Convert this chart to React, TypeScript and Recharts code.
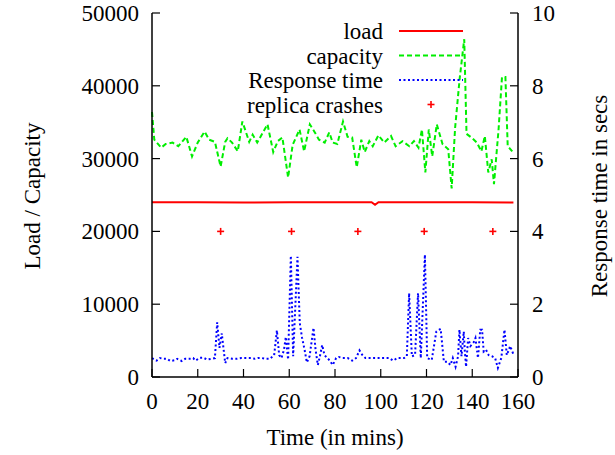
import {
  ComposedChart,
  Line,
  Scatter,
  XAxis,
  YAxis,
} from "recharts";

// minutes -> requests
const load: [number, number][] = [
  [0, 24000], [20, 24000], [40, 23980], [60, 24000], [80, 24000],
  [96, 24000], [97.5, 23650], [99, 24000], [120, 24000], [140, 24000],
  [158, 23980],
];

const capacity: [number, number][] = [
  [0, 36400], [1, 32600], [4, 31500], [6, 32000], [9, 32200], [11.5, 31700],
  [15, 33000], [17.5, 30300], [20, 32200], [23, 33700], [25, 32600],
  [27.5, 32300], [30, 28900], [32, 32300], [33, 32800], [35, 32200],
  [37.5, 31000], [39.5, 35100], [42.5, 32300], [44, 33300], [46, 32200],
  [48.5, 33600], [50.5, 34700], [53, 30900], [55, 32400], [57, 32900],
  [59.5, 27400], [61.5, 31900], [64.5, 34000], [66.5, 31000], [69, 34700],
  [71, 33700], [73, 32600], [75.5, 32200], [77.5, 33600], [79, 32200],
  [81, 32000], [83.5, 35100], [85.5, 33000], [87.5, 32900], [89.5, 28800],
  [91.5, 32600], [93, 30900], [95, 32400], [96.5, 31700], [99, 33200],
  [101.5, 32200], [104.5, 33100], [106.5, 31700], [109.5, 32400],
  [112.5, 31700], [114.5, 32400], [116.5, 31500], [118, 34000],
  [119.5, 28100], [121, 34000], [122.5, 30300], [124.5, 34700], [127, 32000],
  [129.5, 31300], [131, 25900], [132.5, 34200], [134.5, 41000],
  [136.5, 46400], [137.5, 33400], [140, 32800], [142, 32200], [144, 31000],
  [145.5, 33100], [147, 28100], [148.5, 29900], [149.5, 26500],
  [151.5, 34000], [153, 41200], [154.5, 41200], [155.5, 31700],
  [157.5, 31000],
];

// minutes -> seconds
const responseTime: [number, number][] = [
  [0, 0.52], [2, 0.45], [3.5, 0.52], [5, 0.5], [6.5, 0.5], [8, 0.44],
  [10, 0.46], [11, 0.5], [13, 0.44], [14.5, 0.5], [16.5, 0.5], [18, 0.52],
  [19, 0.45], [21, 0.53], [22.5, 0.53], [24, 0.48], [26, 0.5], [27.5, 0.52],
  [28.5, 1.5], [29.5, 0.8], [30.5, 1.2], [32, 0.38], [33, 0.52], [35, 0.5],
  [37, 0.5], [39, 0.52], [41.4, 0.52], [43.3, 0.52], [45, 0.5], [46.3, 0.52],
  [48, 0.52], [50, 0.5], [51.5, 0.5], [53.4, 0.6], [54.6, 1.28], [55.6, 0.6],
  [56.6, 0.52], [57.7, 0.75], [58.5, 1.1], [59.5, 0.48], [60.7, 3.33],
  [61.7, 0.57], [63.6, 3.3], [64.6, 1.48], [65.6, 1.08], [66.7, 0.75],
  [67.7, 0.4], [68.9, 0.57], [70.6, 1.35], [71.5, 0.75], [72.5, 0.33],
  [73.4, 0.57], [74.4, 0.88], [75.4, 0.6], [77.6, 0.46], [79, 0.33],
  [80.5, 0.52], [81.7, 0.55], [83.4, 0.52], [85.6, 0.52], [87.5, 0.45],
  [89.2, 0.52], [90.7, 0.73], [92, 0.6], [93.3, 0.52], [96.4, 0.52],
  [100, 0.52], [103.7, 0.52], [105.4, 0.45], [107.3, 0.52], [110.2, 0.52],
  [111.4, 0.57], [112.4, 2.3], [113.6, 0.57], [115, 0.6], [116.3, 2.3],
  [117.5, 0.52], [119.3, 3.36], [120.3, 0.52], [122.3, 0.47], [124.3, 1.25],
  [126.2, 1.32], [127.6, 0.42], [129, 0.42], [130.5, 0.33], [131.5, 0.52],
  [132.7, 0.28], [133.8, 0.57], [134.4, 1.3], [135.3, 0.57], [136.3, 1.25],
  [136.7, 0.75], [137.3, 0.28], [138.2, 1.07], [139.2, 0.85], [140.6, 0.95],
  [141.4, 1.07], [142.5, 0.52], [143.5, 1.3], [144.3, 1.3], [145, 0.7],
  [146, 0.75], [147.2, 0.6], [148.6, 0.57], [150, 0.52], [151.2, 0.25],
  [152.7, 0.52], [154.1, 1.3], [155.1, 0.6], [156.6, 0.85], [158, 0.62],
];

const crashMinutes = [30, 61, 90, 119, 149];
const crashLevel = 20000;

const timeTicks = [0, 20, 40, 60, 80, 100, 120, 140, 160];
const loadTicks = [0, 10000, 20000, 30000, 40000, 50000];
const secTicks = [0, 2, 4, 6, 8, 10];

const FONT = '"Liberation Serif", "Times New Roman", Tinos, "DejaVu Serif", "Noto Serif", serif';
const FS = 23;
const textStyle = { fontFamily: FONT, fontSize: FS };

const toRows = (pts: [number, number][]) => pts.map(([t, v]) => ({ t, v }));

const BottomTick = ({ x, y, payload }: any) => (
  <g>
    <line x1={x} y1={y} x2={x} y2={y - 8} stroke="#000" strokeWidth={1.2} />
    <text x={x} y={y + 32} textAnchor="middle" style={textStyle} fill="#000">
      {payload.value}
    </text>
  </g>
);

const TopTick = ({ x, y }: any) => (
  <line x1={x} y1={y} x2={x} y2={y + 8} stroke="#000" strokeWidth={1.2} />
);

const LeftTick = ({ x, y, payload }: any) => (
  <g>
    <line x1={x} y1={y} x2={x + 8} y2={y} stroke="#000" strokeWidth={1.2} />
    <text x={x - 13} y={y} dy="0.35em" textAnchor="end" style={textStyle} fill="#000">
      {payload.value}
    </text>
  </g>
);

const RightTick = ({ x, y, payload }: any) => (
  <g>
    <line x1={x} y1={y} x2={x - 8} y2={y} stroke="#000" strokeWidth={1.2} />
    <text x={x + 14} y={y} dy="0.35em" textAnchor="start" style={textStyle} fill="#000">
      {payload.value}
    </text>
  </g>
);

const CrashMark = ({ cx, cy }: any) => (
  <g stroke="#ff0000" strokeWidth={1.6}>
    <line x1={cx - 3.5} y1={cy} x2={cx + 3.5} y2={cy} />
    <line x1={cx} y1={cy - 3.5} x2={cx} y2={cy + 3.5} />
  </g>
);

const legendRows = [
  { name: "load", stroke: "#ff0000", dash: undefined },
  { name: "capacity", stroke: "#00ee00", dash: "5 3" },
  { name: "Response time", stroke: "#0000ff", dash: "2 2.5" },
  { name: "replica crashes", stroke: "#ff0000", dash: "marker" },
];

const App = () => {
  const axisLine = { stroke: "#000", strokeWidth: 1.5 };

  return (
    <div style={{ position: "absolute", left: 0, top: 0, width: 615, height: 455, background: "#fff", fontFamily: FONT }}>
      <ComposedChart width={615} height={455} margin={{ top: 13, right: 37, bottom: 38, left: 92 }}>
        <XAxis
          xAxisId="bottom"
          dataKey="t"
          type="number"
          domain={[0, 160]}
          ticks={timeTicks}
          interval={0}
          height={40}
          tickSize={0}
          tickMargin={0}
          tickLine={false}
          axisLine={axisLine}
          tick={<BottomTick />}
        />
        <XAxis
          xAxisId="top"
          orientation="top"
          dataKey="t"
          type="number"
          domain={[0, 160]}
          ticks={timeTicks}
          interval={0}
          height={0}
          tickSize={0}
          tickMargin={0}
          tickLine={false}
          axisLine={axisLine}
          tick={<TopTick />}
        />
        <YAxis
          yAxisId="left"
          type="number"
          domain={[0, 50000]}
          ticks={loadTicks}
          interval={0}
          width={60}
          tickSize={0}
          tickMargin={0}
          tickLine={false}
          axisLine={axisLine}
          tick={<LeftTick />}
        />
        <YAxis
          yAxisId="right"
          orientation="right"
          type="number"
          domain={[0, 10]}
          ticks={secTicks}
          interval={0}
          width={60}
          tickSize={0}
          tickMargin={0}
          tickLine={false}
          axisLine={axisLine}
          tick={<RightTick />}
        />
        <Line
          xAxisId="bottom"
          yAxisId="left"
          data={toRows(load)}
          dataKey="v"
          type="linear"
          stroke="#ff0000"
          strokeWidth={2}
          dot={false}
          isAnimationActive={false}
        />
        <Line
          xAxisId="bottom"
          yAxisId="left"
          data={toRows(capacity)}
          dataKey="v"
          type="linear"
          stroke="#00ee00"
          strokeWidth={2}
          strokeDasharray="5 3"
          dot={false}
          isAnimationActive={false}
        />
        <Line
          xAxisId="bottom"
          yAxisId="right"
          data={toRows(responseTime)}
          dataKey="v"
          type="linear"
          stroke="#0000ff"
          strokeWidth={2}
          strokeDasharray="2 2.5"
          dot={false}
          isAnimationActive={false}
        />
        <Scatter
          xAxisId="bottom"
          yAxisId="left"
          data={crashMinutes.map((t) => ({ t, v: crashLevel }))}
          dataKey="v"
          shape={<CrashMark />}
          isAnimationActive={false}
        />
      </ComposedChart>

      {/* gnuplot-style key and axis titles */}
      <svg width={615} height={455} style={{ position: "absolute", left: 0, top: 0, pointerEvents: "none" }}>
        {legendRows.map((row, i) => {
          const y = 31 + i * 24.5;
          return (
            <g key={row.name}>
              <text x={383} y={y + 8} textAnchor="end" style={textStyle} fill="#000">
                {row.name}
              </text>
              {row.dash === "marker" ? (
                <CrashMark cx={431} cy={y} />
              ) : (
                <line x1={399} y1={y} x2={463} y2={y} stroke={row.stroke} strokeWidth={2} strokeDasharray={row.dash} />
              )}
            </g>
          );
        })}
        <text transform="translate(40 196) rotate(-90)" textAnchor="middle" style={textStyle} fill="#000">
          Load / Capacity
        </text>
        <text transform="translate(607 196) rotate(-90)" textAnchor="middle" style={textStyle} fill="#000">
          Response time in secs
        </text>
        <text x={335} y={445} textAnchor="middle" style={textStyle} fill="#000">
          Time (in mins)
        </text>
      </svg>
    </div>
  );
};

export default App;
